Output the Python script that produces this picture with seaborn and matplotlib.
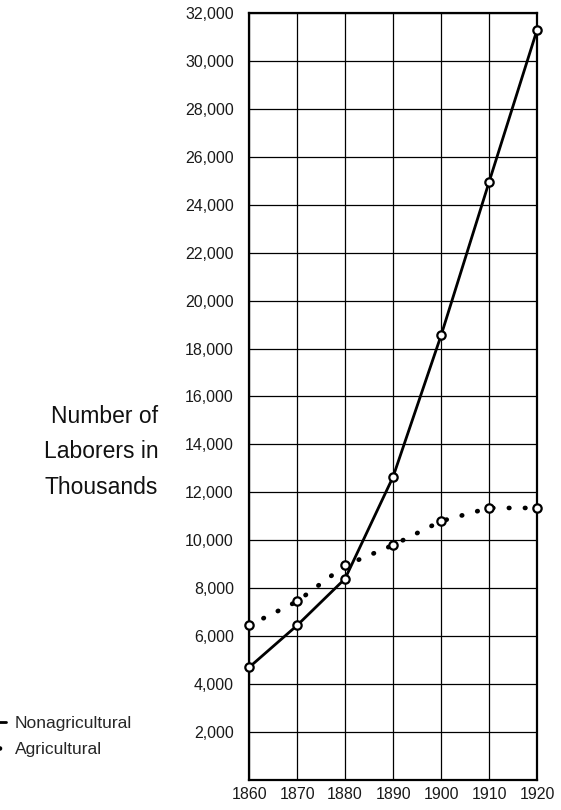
import pandas as pd
import matplotlib
matplotlib.use("Agg")
import matplotlib.pyplot as plt
import seaborn as sns

# Datos (miles de trabajadores)
years = [1860, 1870, 1880, 1890, 1900, 1910, 1920]
nonagricultural = [4700, 6450, 8400, 12650, 18550, 24950, 31300]
agricultural = [6450, 7450, 8950, 9800, 10800, 11350, 11350]
y_ticks = list(range(2000, 32001, 2000))

df = pd.DataFrame({
    'year': years * 2,
    'workers': nonagricultural + agricultural,
    'sector': ['Nonagricultural'] * len(years) + ['Agricultural'] * len(years),
})

sns.set_style("white")
plt.rcParams['font.family'] = ['Liberation Sans', 'DejaVu Sans']

fig = plt.figure(figsize=(5.61, 8.10), dpi=100)
ax = fig.add_axes([0.444, 0.037, 0.5134, 0.947])

# Nonagricultural: linea solida
sns.lineplot(data=df[df['sector'] == 'Nonagricultural'], x='year', y='workers',
             ax=ax, color='black', linewidth=2.0, marker='o', markersize=6,
             markerfacecolor='white', markeredgecolor='black', markeredgewidth=1.6,
             label='Nonagricultural', clip_on=False, zorder=4)

# Agricultural: linea punteada
sns.lineplot(data=df[df['sector'] == 'Agricultural'], x='year', y='workers',
             ax=ax, color='black', linewidth=3.4, linestyle=(0, (0.1, 3.3)),
             dash_capstyle='round', marker='o', markersize=6,
             markerfacecolor='white', markeredgecolor='black', markeredgewidth=1.6,
             label='Agricultural', clip_on=False, zorder=4)

ax.set_xlim(1860, 1920)
ax.set_ylim(0, 32000)
ax.set_xticks(years)
ax.set_yticks(y_ticks)
ax.set_yticklabels([f"{v:,}" for v in y_ticks])
ax.tick_params(axis='both', length=0, colors='#1a1a1a')
ax.tick_params(axis='y', pad=11, labelsize=11.5)
ax.tick_params(axis='x', pad=5, labelsize=11.5)
ax.grid(True, color='black', linewidth=0.9)
ax.set_axisbelow(True)
for s in ax.spines.values():
    s.set_color('black')
    s.set_linewidth(1.6)

ax.set_xlabel('')
ax.set_ylabel('')
fig.text(0.282, 0.442, "Number of\nLaborers in\nThousands", ha='right', va='center',
         fontsize=16.5, linespacing=1.7, color='#111111')

ax.get_legend().remove()
handles, labels = ax.get_legend_handles_labels()
fig.legend(handles, labels, loc='center left', bbox_to_anchor=(-0.094, 0.091),
           frameon=False, fontsize=12.5, handlelength=2.5, handletextpad=0.5,
           labelspacing=0.6)

fig.savefig("out.png", dpi=100)
